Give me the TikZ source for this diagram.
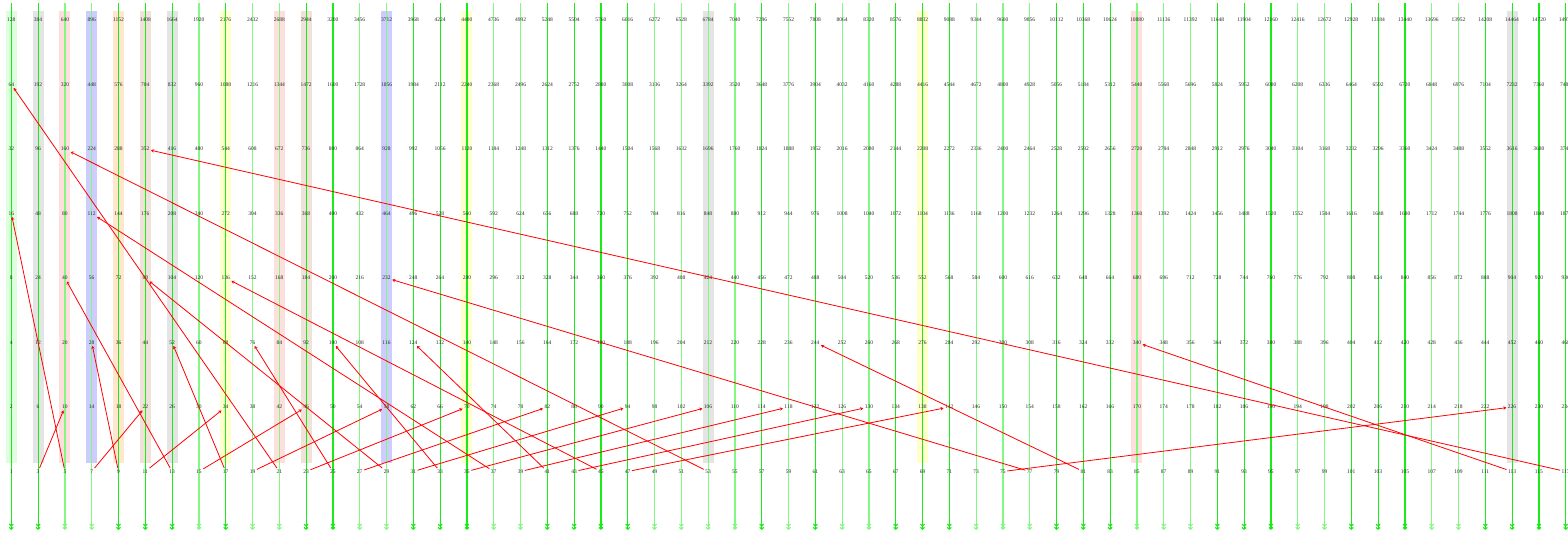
\documentclass[tikz,border=0pt]{standalone}
\usepackage{fontspec}
\setmainfont{Liberation Serif}
\usetikzlibrary{arrows.meta}
\definecolor{gbright}{RGB}{25,235,25}
\definecolor{glight}{RGB}{130,248,130}
\definecolor{bgreen}{RGB}{221,255,221}
\definecolor{bgray}{RGB}{228,228,228}
\definecolor{bpink}{RGB}{255,222,222}
\definecolor{bblue}{RGB}{204,204,255}
\definecolor{bpeach}{RGB}{255,230,204}
\definecolor{btan}{RGB}{240,226,216}
\definecolor{byellow}{RGB}{255,255,204}
\definecolor{lblc}{RGB}{40,40,40}
\begin{document}
\begin{tikzpicture}[x=1pt,y=1pt,
  lbl/.style={font=\fontsize{5.5}{5.5}\selectfont, text=lblc, inner sep=1.4pt},
  vline/.style={line width=1.2pt, draw=#1, -{Straight Barb[length=1.8pt,width=4pt]Straight Barb[length=1.8pt,width=4pt]}},
  collatz/.style={draw=red, line width=0.8pt, -{Stealth[length=3pt,width=3.5pt]}}]
\useasboundingbox (0,0) rectangle (1568,-534);
% highlight bands
\foreach \n/\c in {1/bgreen,3/bgray,5/bpink,7/bblue,9/bpeach,11/btan,13/bgray,17/byellow,21/bpink,23/btan,29/bblue,35/byellow,53/bgray,69/byellow,85/bpink,113/bgray}
  \fill[\c] ({11.3+(\n-1)/2*26.8-5.5},-11) rectangle ++(11,-452);
% vertical lines
\foreach \n in {1,3,...,117} {
  \coordinate (t\n) at ({11.3+(\n-1)/2*26.8},-3);
  \coordinate (b\n) at ({11.3+(\n-1)/2*26.8},-530);
}
\foreach \n in {1,3,9,11,13,17,23,25,31,33,35,41,43,45,47,57,61,67,69,71,79,81,83,91,93,95,101,103,105,111,113,115,117}
  \draw[vline=gbright] (t\n) -- (b\n);
\foreach \n in {5,7,15,19,21,27,29,37,39,49,51,53,55,59,63,65,73,75,77,85,87,89,97,99,107,109}
  \draw[vline=glight] (t\n) -- (b\n);
% labels
\foreach \n in {1,3,...,117} {
  \foreach \p in {0,...,7} {
    \pgfmathtruncatemacro\v{\n*2^\p}
    \node[lbl] (v\n-\p) at ({11.3+(\n-1)/2*26.8},{-(20+64.5*(7-\p))}) {\v};
  }
}
% 3n+1 arrows
\foreach \s/\m/\p in {3/5/1,5/1/4,7/11/1,9/7/2,11/17/1,13/5/3,15/23/1,17/13/2,19/29/1,21/1/6,23/35/1,25/19/2,27/41/1,29/11/3,31/47/1,33/25/2,35/53/1,37/7/4,39/59/1,41/31/2,43/65/1,45/17/3,47/71/1,53/5/5,75/113/1,77/29/3,81/61/2,113/85/2,117/11/5}
  \draw[collatz] (v\s-0) -- (v\m-\p);
\end{tikzpicture}
\end{document}
